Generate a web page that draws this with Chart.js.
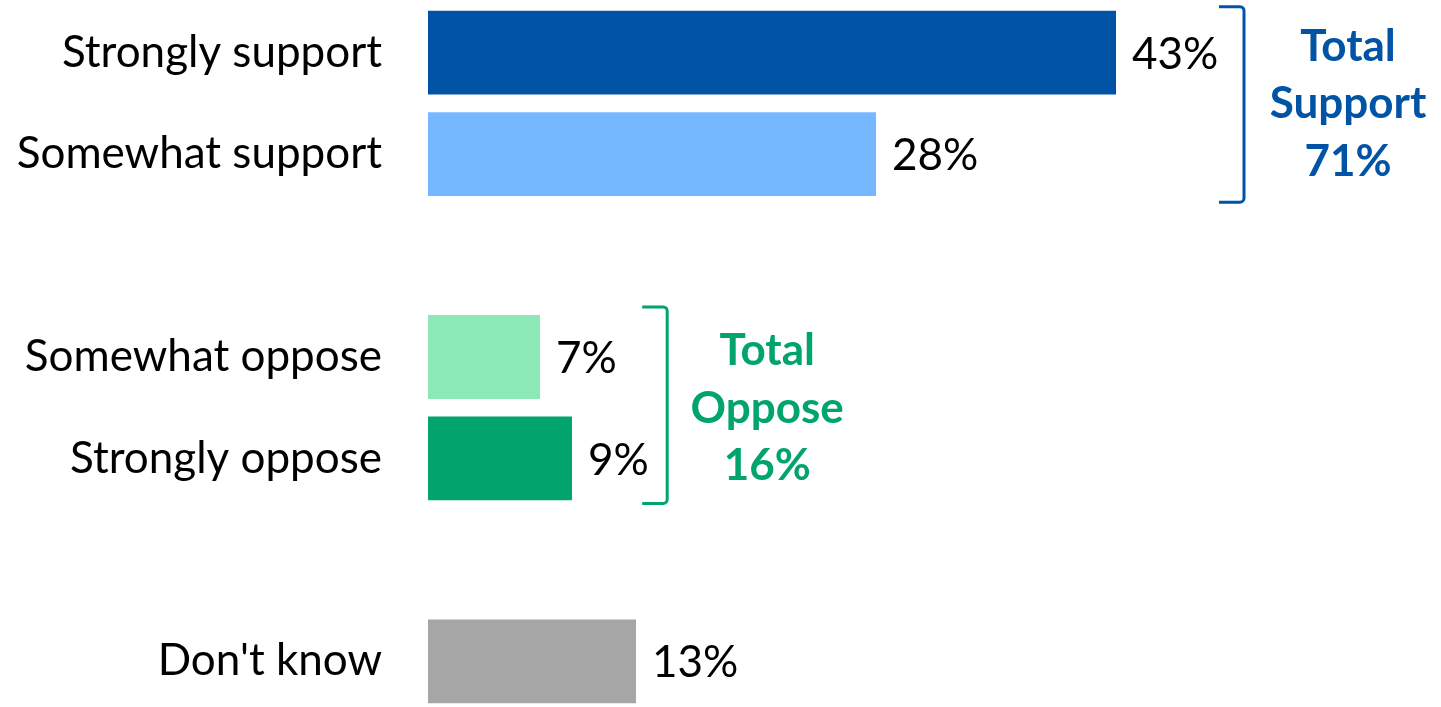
<!DOCTYPE html>
<html>
<head>
<meta charset="utf-8">
<script src="https://cdn.jsdelivr.net/npm/chart.js@4/dist/chart.umd.min.js"></script>
<style>
  html, body { margin: 0; padding: 0; background: #ffffff; overflow: hidden; }
  #wrap { width: 1441px; height: 712px; position: relative; }
</style>
</head>
<body>
<div id="wrap"><canvas id="chart"></canvas></div>
<script>
// Survey responses (percent); empty rows act as spacers between groups
const categories = ['Strongly support', 'Somewhat support', '', 'Somewhat oppose', 'Strongly oppose', '', "Don't know"];
const values = [43, 28, null, 7, 9, null, 13];
const barColors = ['#0053A5', '#75B8FF', '#ffffff', '#8BE9B8', '#00A46C', '#ffffff', '#A6A6A6'];

// Grouped totals shown next to brackets
const groupNames = ['Support', 'Oppose'];
const groupMembers = [[0, 1], [3, 4]];
const groupColors = ['#0053A5', '#00A46C'];

const FONT = 'Lato, "Open Sans", sans-serif';
const LABEL_SIZE = 44;

const valueLabels = {
  id: 'valueLabels',
  afterDatasetsDraw(chart) {
    const ctx = chart.ctx;
    const meta = chart.getDatasetMeta(0);
    ctx.save();
    ctx.font = `${LABEL_SIZE}px ${FONT}`;
    ctx.fillStyle = '#000000';
    ctx.textAlign = 'left';
    ctx.textBaseline = 'middle';
    meta.data.forEach((bar, i) => {
      const v = values[i];
      if (v === null || v === undefined) return;
      ctx.fillText(v + '%', bar.x + 16, bar.y + 2);
    });
    ctx.restore();
  }
};

const groupBrackets = {
  id: 'groupBrackets',
  afterDatasetsDraw(chart, args, opts) {
    const ctx = chart.ctx;
    const xs = chart.scales.x;
    const ys = chart.scales.y;
    groupMembers.forEach((members, g) => {
      const first = members[0];
      const last = members[members.length - 1];
      const top = ys.getPixelForValue(first) + opts.topOffset[g];
      const bottom = ys.getPixelForValue(last) + opts.bottomOffset[g];
      const bx = xs.getPixelForValue(opts.bracketAt[g]);
      const arm = 25, r = 4;
      ctx.save();
      ctx.strokeStyle = groupColors[g];
      ctx.lineWidth = 3;
      ctx.lineJoin = 'round';
      ctx.beginPath();
      ctx.moveTo(bx - arm, top);
      ctx.arcTo(bx, top, bx, top + r, r);
      ctx.lineTo(bx, bottom - r);
      ctx.arcTo(bx, bottom, bx - arm, bottom, r);
      ctx.lineTo(bx - arm, bottom);
      ctx.stroke();

      const total = members.reduce((s, i) => s + values[i], 0);
      const lines = ['Total', groupNames[g], total + '%'];
      const tx = xs.getPixelForValue(opts.textAt[g]);
      const mid = (ys.getPixelForValue(first) + ys.getPixelForValue(last)) / 2 + 15;
      ctx.fillStyle = groupColors[g];
      ctx.font = `bold ${LABEL_SIZE}px ${FONT}`;
      ctx.textAlign = 'center';
      ctx.textBaseline = 'alphabetic';
      lines.forEach((t, k) => ctx.fillText(t, tx, mid + (k - 1) * 57.5));
      ctx.restore();
    });
  }
};

new Chart(document.getElementById('chart'), {
  type: 'bar',
  data: {
    labels: categories,
    datasets: [{
      data: values,
      backgroundColor: barColors,
      borderWidth: 0,
      barPercentage: 0.826,
      categoryPercentage: 1.0
    }]
  },
  options: {
    indexAxis: 'y',
    responsive: true,
    maintainAspectRatio: false,
    animation: false,
    layout: { padding: { top: 2, bottom: 0, left: 0, right: 53 } },
    plugins: {
      legend: { display: false },
      tooltip: { enabled: false },
      groupBrackets: {
        bracketAt: [51.0, 14.95],
        textAt: [57.5, 21.2],
        topOffset: [-46, -50],
        bottomOffset: [48, 45]
      }
    },
    scales: {
      x: {
        display: false,
        min: 0,
        max: 60
      },
      y: {
        afterFit(scale) {
          // fixed label column; keep the full height for the bars
          scale.width = 428;
          scale.paddingTop = 0;
          scale.paddingBottom = 0;
        },
        grid: { display: false, drawTicks: false },
        border: { display: false },
        ticks: {
          color: '#000000',
          padding: 46,
          font: { family: FONT, size: LABEL_SIZE }
        }
      }
    }
  },
  plugins: [valueLabels, groupBrackets]
});
</script>
</body>
</html>
